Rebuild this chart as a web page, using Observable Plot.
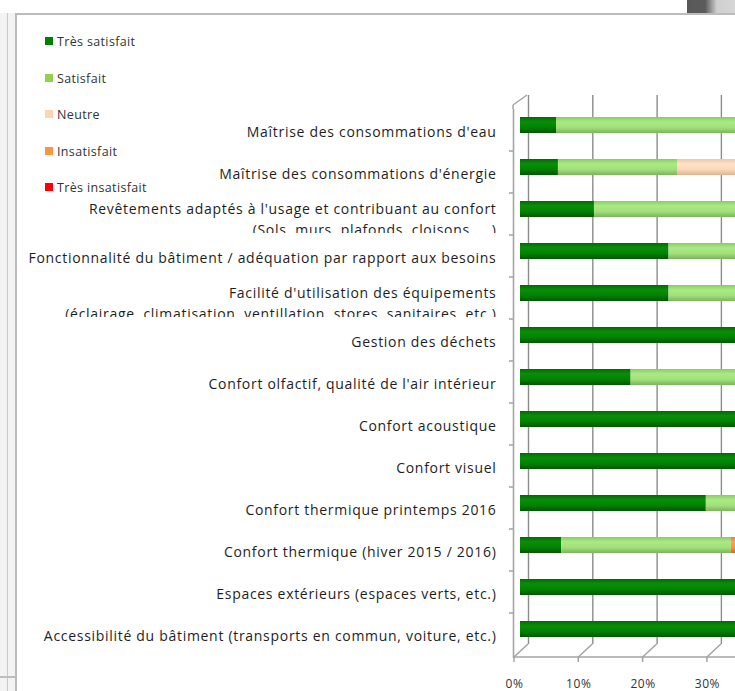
<!DOCTYPE html>
<html><head><meta charset="utf-8">
<script src="https://cdn.jsdelivr.net/npm/d3@7"></script>
<script src="https://cdn.jsdelivr.net/npm/@observablehq/plot@0.6"></script>
<style>
html,body{margin:0;padding:0;background:#fff;overflow:hidden;width:735px;height:691px;}
#wrap{position:relative;width:735px;height:691px;overflow:hidden;font-family:"Open Sans",sans-serif;}
#wrap svg{max-width:none!important;position:absolute;left:0;top:0;background:transparent!important;}
.deco{position:absolute;}
.lg{position:absolute;font-size:12.5px;letter-spacing:0.35px;color:#333;white-space:nowrap;}
.lg i{position:absolute;left:0;width:8px;height:8px;}
.lg span{position:absolute;left:12px;line-height:16px;}
</style></head>
<body><div id="wrap">
<div class="deco" style="left:0;top:0;width:15px;height:691px;background:#f3f3f3;"></div>
<div class="deco" style="left:7px;top:0;width:1px;height:691px;background:#c9c9c9;"></div>
<div class="deco" style="left:0;top:676px;width:15px;height:2px;background:#bdbdbd;"></div>
<div class="deco" style="left:0;top:0;width:735px;height:13px;background:#fff;"></div>
<div class="deco" style="left:687px;top:0;width:48px;height:14px;background:linear-gradient(to right,#585858 0%,#5c5c5c 38%,#cfcfcf 62%,#d6d6d6 100%);"></div>
<div class="deco" style="left:15px;top:13px;width:720px;height:2px;background:#bcbcbc;"></div>
<div class="deco" style="left:15px;top:13px;width:2px;height:678px;background:#bcbcbc;"></div>
<div id="legend"></div>
</div>
<script>
// ---- data ----
const categories = [
  "Maîtrise des consommations d'eau",
  "Maîtrise des consommations d'énergie",
  "Revêtements adaptés à l'usage et contribuant au confort",
  "Fonctionnalité du bâtiment / adéquation par rapport aux besoins",
  "Facilité d'utilisation des équipements",
  "Gestion des déchets",
  "Confort olfactif, qualité de l'air intérieur",
  "Confort acoustique",
  "Confort visuel",
  "Confort thermique printemps 2016",
  "Confort thermique (hiver 2015 / 2016)",
  "Espaces extérieurs (espaces verts, etc.)",
  "Accessibilité du bâtiment (transports en commun, voiture, etc.)"
];
const secondLines = [
  "", "", "(Sols, murs, plafonds, cloisons, ...)", "",
  "(éclairage, climatisation, ventillation, stores, sanitaires, etc.)",
  "", "", "", "", "", "", "", ""
];
const seriesNames = ["Très satisfait", "Satisfait", "Neutre", "Insatisfait", "Très insatisfait"];
const seriesColors = ["#008000", "#92d050", "#fcd5b4", "#f79646", "#ff0000"];
const tresSatisfait   = [0.056, 0.059, 0.115, 0.231, 0.231, 0.60, 0.172, 0.55, 0.62, 0.289, 0.064, 0.65, 0.71];
const satisfait       = [0.780, 0.186, 0.770, 0.654, 0.654, 0.34, 0.710, 0.39, 0.38, 0.596, 0.264, 0.35, 0.29];
const neutre          = [0.110, 0.530, 0.115, 0.115, 0.057, 0.06, 0.060, 0.06, 0.00, 0.115, 0.000, 0.00, 0.00];
const insatisfait     = [0.054, 0.225, 0.000, 0.000, 0.058, 0.00, 0.058, 0.00, 0.00, 0.000, 0.500, 0.00, 0.00];
const tresInsatisfait = [0.000, 0.000, 0.000, 0.000, 0.000, 0.00, 0.000, 0.00, 0.00, 0.000, 0.172, 0.00, 0.00];
const xTicks = [0, 0.1, 0.2, 0.3, 0.4, 0.5, 0.6, 0.7, 0.8, 0.9, 1];
// only the tick labels visible in the (cropped) reference
const xTickLabels = ["0%", "10%", "20%", "30%"];

// ---- build table ----
const seriesValues = [tresSatisfait, satisfait, neutre, insatisfait, tresInsatisfait];
const rows = categories.flatMap((c, i) => seriesNames.map((s, j) => ({category: c, series: s, value: seriesValues[j][i]})));
const gradIds = ["g0", "g1", "g2", "g3", "g4"];
const gradStops = [
  ["#066806", "#0a8e0a", "#008300", "#005500"],
  ["#8acb66", "#aaea84", "#a2e07c", "#7cb45c"],
  ["#ecc6a2", "#fee2c8", "#fcd8b8", "#dcb492"],
  ["#e07e38", "#faa262", "#f79646", "#c86c2c"],
  ["#cc0000", "#ff2a2a", "#ff0000", "#aa0000"]
];
const twoLine = categories.map((c, i) => i).filter(i => secondLines[i]);
const oneLine = categories.map((c, i) => i).filter(i => !secondLines[i]);
const labelledTicks = xTicks.slice(0, xTickLabels.length);

const font = "'Open Sans', sans-serif";
const chart = Plot.plot({
  width: 1200, height: 691,
  marginLeft: 514, marginRight: 43, marginTop: 109, marginBottom: 33,
  style: {background: "transparent", maxWidth: "none", overflow: "visible"},
  x: {domain: [0, 1], axis: null},
  y: {domain: categories, axis: null, paddingInner: 0.62, paddingOuter: 0.31},
  color: {domain: seriesNames, range: gradIds.map(id => `url(#${id})`)},
  marks: [
    Plot.ruleX(xTicks, {dx: 14, dy: -14, stroke: "#8c8c8c", strokeWidth: 1.4}),
    Plot.ruleX([0], {stroke: "#a6a6a6", strokeWidth: 1.6, dx: -1}),
    Plot.barX(rows, Plot.stackX({y: "category", x: "value", fill: "series", dx: 6, dy: -7})),
    Plot.text(oneLine, {y: i => categories[i], text: i => categories[i], frameAnchor: "left", dx: -18, textAnchor: "end", fontSize: 14, fontFamily: font, fill: "#1e1e1e"}),
    Plot.text(twoLine, {y: i => categories[i], text: i => categories[i], frameAnchor: "left", dx: -18, dy: -7, textAnchor: "end", fontSize: 14, fontFamily: font, fill: "#1e1e1e"}),
    Plot.text(twoLine, {y: i => categories[i], text: i => secondLines[i], frameAnchor: "left", dx: -18, dy: 14, textAnchor: "end", fontSize: 14, fontFamily: font, fill: "#1e1e1e"}),
    Plot.text(labelledTicks, {x: d => d, text: (d, i) => xTickLabels[i], frameAnchor: "bottom", dy: 26, lineAnchor: "middle", fontSize: 12, fontFamily: font, fill: "#333"})
  ]
});

// gradients for cylinder-like bars
const svg = d3.select(chart);
const defs = svg.insert("defs", ":first-child");
gradIds.forEach((id, k) => {
  const g = defs.append("linearGradient").attr("id", id).attr("x1", 0).attr("y1", 0).attr("x2", 0).attr("y2", 1);
  [0, 0.3, 0.65, 1].forEach((o, m) => g.append("stop").attr("offset", o).attr("stop-color", gradStops[k][m]));
});

// letter spacing to match the original typeface width
svg.selectAll("text").each(function () {
  const t = this.textContent;
  if (categories.includes(t) || secondLines.includes(t)) d3.select(this).attr("letter-spacing", 0.7);
  else if (xTickLabels.includes(t)) d3.select(this).attr("letter-spacing", 0.6);
});

// 3D frame decorations from the plot's own scales
const sx = chart.scale("x"), sy = chart.scale("y");
const x0 = sx.apply(0) - 1, x1 = sx.apply(1);
const [yTop, yBot] = sy.range;
const step = sy.step;
const deco = svg.append("g").attr("stroke", "#a3a3a3").attr("stroke-width", 1.5).attr("fill", "none");
deco.append("line").attr("x1", x0).attr("x2", x1).attr("y1", yBot - 1).attr("y2", yBot - 1);
deco.append("line").attr("x1", x0).attr("x2", x0 + 14).attr("y1", yTop - 4).attr("y2", yTop - 14);
deco.append("line").attr("x1", x0).attr("x2", x0).attr("y1", yTop - 4).attr("y2", yTop);
xTicks.forEach(t => {
  const x = sx.apply(t);
  deco.append("line").attr("x1", x).attr("x2", x).attr("y1", yBot - 1).attr("y2", yBot + 4);
  deco.append("line").attr("x1", x).attr("x2", x + 14).attr("y1", yBot - 1).attr("y2", yBot - 14);
});
for (let i = 1; i < categories.length; i++) {
  const y = yTop + step * i;
  deco.append("line").attr("x1", x0 - 4).attr("x2", x0).attr("y1", y).attr("y2", y);
}

// clip the truncated second lines (wrapper in root coordinates)
const cp = defs.append("clipPath").attr("id", "clip2").attr("clipPathUnits", "userSpaceOnUse");
twoLine.forEach(i => {
  const c = sy.apply(categories[i]) + sy.bandwidth / 2;
  cp.append("rect").attr("x", 0).attr("width", x0).attr("y", c - 24).attr("height", 41);
});
const l2 = svg.selectAll("text").filter(function () { return secondLines.includes(this.textContent) && this.textContent; });
const l2Group = l2.node().parentNode;
const wrapper = svg.append("g").attr("clip-path", "url(#clip2)");
wrapper.node().appendChild(l2Group);

document.getElementById("wrap").appendChild(chart);

// legend
const lg = d3.select("#legend");
seriesNames.forEach((s, i) => {
  const item = lg.append("div").attr("class", "lg").style("left", "45px").style("top", (33 + 36.5 * i) + "px");
  item.append("i").style("background", seriesColors[i]).style("top", "4px");
  item.append("span").text(s).style("top", "1px");
});
</script>
</body></html>
